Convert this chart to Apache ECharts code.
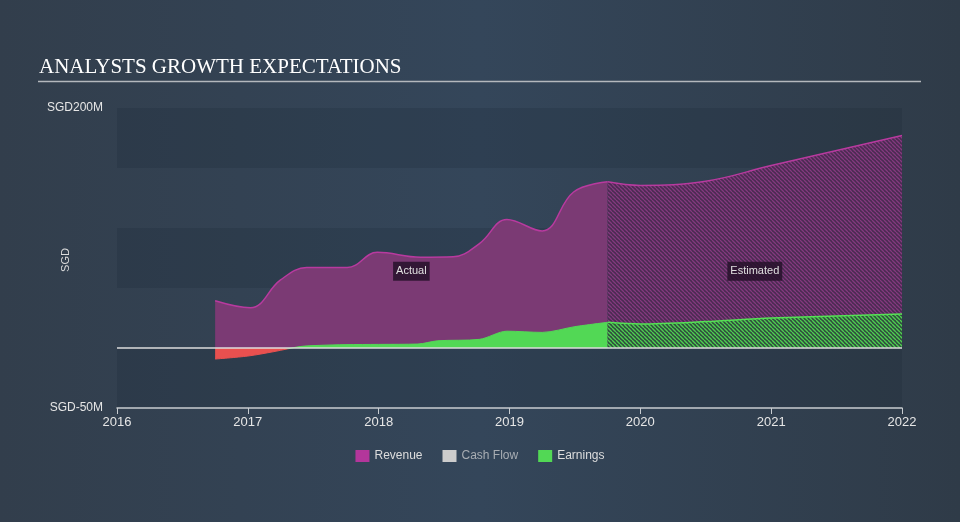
<!DOCTYPE html>
<html>
<head>
<meta charset="utf-8">
<script src="https://cdn.jsdelivr.net/npm/echarts@6/dist/echarts.min.js"></script>
<style>
html,body{margin:0;padding:0;}
#c{width:960px;height:522px;}
</style>
</head>
<body>
<div id="c"></div>
<script>
// ---- data (years as decimal, values in SGD millions) ----
var revenueActual = [[2016.75,39.4],[2017.02,33.6],[2017.25,56.7],[2017.45,67],[2017.76,67],[2017.99,79.7],[2018.32,75.6],[2018.57,76],[2018.77,87],[2018.98,107],[2019.25,97.5],[2019.49,130],[2019.75,138.5]];
var revenueEstimated = [[2019.75,138.5],[2020.0,135.5],[2020.5,139],[2021.0,152],[2022.0,177]];
var earningsActual = [[2016.75,-9.2],[2017.0,-6.7],[2017.2,-3],[2017.4,1.2],[2017.55,2.2],[2017.75,2.8],[2018.0,3],[2018.3,3.3],[2018.45,6],[2018.77,7.2],[2018.98,14],[2019.25,13],[2019.5,17.8],[2019.75,21.4]];
var earningsEstimated = [[2019.75,21.4],[2020.0,20],[2020.5,22],[2021.0,25],[2022.0,28.3]];
var cashFlow = [];
var yTickLabels = {"200":"SGD200M","-50":"SGD-50M"};
var periodLabels = ["Actual","Estimated"];
var labelValue = 64;

function hatch(bg, fg, size, lw){
  var c=document.createElement('canvas'); c.width=size; c.height=size;
  var g=c.getContext('2d'); g.fillStyle=bg; g.fillRect(0,0,size,size);
  g.strokeStyle=fg; g.lineWidth=lw; g.beginPath();
  [-size,0,size].forEach(function(k){ g.moveTo(k,0); g.lineTo(k+size,size); });
  g.stroke();
  return c;
}
var purpleHatch = hatch('#4a2b51','#84397f',4,1.3);
var greenHatch = hatch('#2f4a3e','#4fcf50',4,1.4);

var actualMid = (revenueActual[0][0] + revenueActual[revenueActual.length-1][0]) / 2;
var estMid = (revenueEstimated[0][0] + revenueEstimated[revenueEstimated.length-1][0]) / 2;

// sign-split gradient for actual earnings (red below zero, green above)
var eVals = earningsActual.map(function(p){return p[1];});
var eMax = Math.max.apply(null, eVals.concat([0]));
var eMin = Math.min.apply(null, eVals.concat([0]));
var zeroOff = eMax / (eMax - eMin);
function signGradient(){
  return {type:'linear', x:0, y:0, x2:0, y2:1, colorStops:[
    {offset:0,color:'#52d855'},{offset:zeroOff,color:'#52d855'},
    {offset:zeroOff,color:'#e9504f'},{offset:1,color:'#e9504f'}]};
}

var labelStyle = {show:true, color:'#e0e0e0', fontSize:11, fontFamily:'Liberation Sans, Arial, sans-serif',
  backgroundColor:'rgba(38,18,42,0.85)', padding:[4,3], position:'inside'};

var chart = echarts.init(document.getElementById('c'));
chart.setOption({
  backgroundColor: {type:'linear', x:0, y:0, x2:1, y2:0, colorStops:[
    {offset:0,color:'#323e4c'},{offset:0.5,color:'#34465a'},{offset:1,color:'#2f3b48'}]},
  animation:false,
  title:{text:'ANALYSTS GROWTH EXPECTATIONS', left:39, top:57, padding:0,
    textStyle:{color:'#ffffff', fontFamily:'Liberation Serif, Times New Roman, serif', fontSize:21, fontWeight:'normal'}},
  graphic:[
    {type:'line', shape:{x1:38,y1:81.5,x2:921,y2:81.5}, style:{stroke:'#b4b8bd', lineWidth:1.5}},
    {type:'text', x:66, y:260, rotation:Math.PI/2,
      style:{text:'SGD', fill:'#dddddd', fontSize:11, fontFamily:'Liberation Sans, Arial, sans-serif', align:'center', verticalAlign:'middle'}}
  ],
  legend:{bottom:55, left:'center', itemWidth:14, itemHeight:12, itemGap:20, icon:'rect',
    textStyle:{color:'#dddddd', fontSize:12, fontFamily:'Liberation Sans Narrow, Arial Narrow, sans-serif'},
    data:[{name:'Revenue'},{name:'Cash Flow', textStyle:{color:'#a8adb3'}},{name:'Earnings'}]},
  grid:{left:117, right:58, top:108, bottom:114},
  xAxis:{type:'value', min:2016, max:2022, interval:1,
    axisLine:{show:true, onZero:false, lineStyle:{color:'#c8ccd0', width:1.5}},
    axisTick:{show:true, length:6, lineStyle:{color:'#c8ccd0'}},
    axisLabel:{color:'#e6e6e6', fontSize:13, margin:8, fontFamily:'Liberation Sans, Arial, sans-serif', formatter:function(v){return String(v);}},
    splitLine:{show:false}},
  yAxis:{type:'value', min:-50, max:200, interval:50,
    axisLine:{show:false}, axisTick:{show:false},
    axisLabel:{color:'#e6e6e6', fontSize:12, margin:14, fontFamily:'Liberation Sans, Arial, sans-serif',
      formatter:function(v){return yTickLabels[String(v)] || '';}},
    splitLine:{show:false},
    splitArea:{show:true, areaStyle:{color:['rgba(20,30,42,0.16)','rgba(255,255,255,0)']}}},
  series:[
    {name:'Revenue', type:'line', data:revenueActual, smooth:0.4, symbol:'none',
      lineStyle:{color:'#b83a9f', width:1.5}, itemStyle:{color:'#b3369b'},
      areaStyle:{color:'#7b3a74', opacity:1},
      markPoint:{symbol:'rect', symbolSize:1, itemStyle:{color:'rgba(0,0,0,0)'}, silent:true,
        data:[{coord:[actualMid,labelValue], value:periodLabels[0], label:Object.assign({formatter:periodLabels[0]},labelStyle)},
              {coord:[estMid,labelValue], value:periodLabels[1], label:Object.assign({formatter:periodLabels[1]},labelStyle)}]}},
    {name:'Revenue', type:'line', data:revenueEstimated, smooth:0.4, symbol:'none',
      lineStyle:{color:'#b83a9f', width:1.5}, itemStyle:{color:'#b3369b'},
      areaStyle:{color:{image:purpleHatch, repeat:'repeat'}, opacity:1}},
    {name:'Cash Flow', type:'line', data:cashFlow, symbol:'none', itemStyle:{color:'#cccccc'}},
    {name:'Earnings', type:'line', data:earningsActual, smooth:0.3, symbol:'none',
      lineStyle:{width:1, color:signGradient()}, itemStyle:{color:'#52d855'},
      areaStyle:{opacity:1, color:signGradient()}},
    {name:'Earnings', type:'line', data:earningsEstimated, smooth:0.3, symbol:'none',
      lineStyle:{color:'#55e055', width:1.5}, itemStyle:{color:'#52d855'},
      areaStyle:{color:{image:greenHatch, repeat:'repeat'}, opacity:1},
      markLine:{silent:true, symbol:'none', label:{show:false},
        lineStyle:{color:'#dcdcdc', width:1.5, type:'solid'}, data:[{yAxis:0}]}}
  ]
});
</script>
</body>
</html>
